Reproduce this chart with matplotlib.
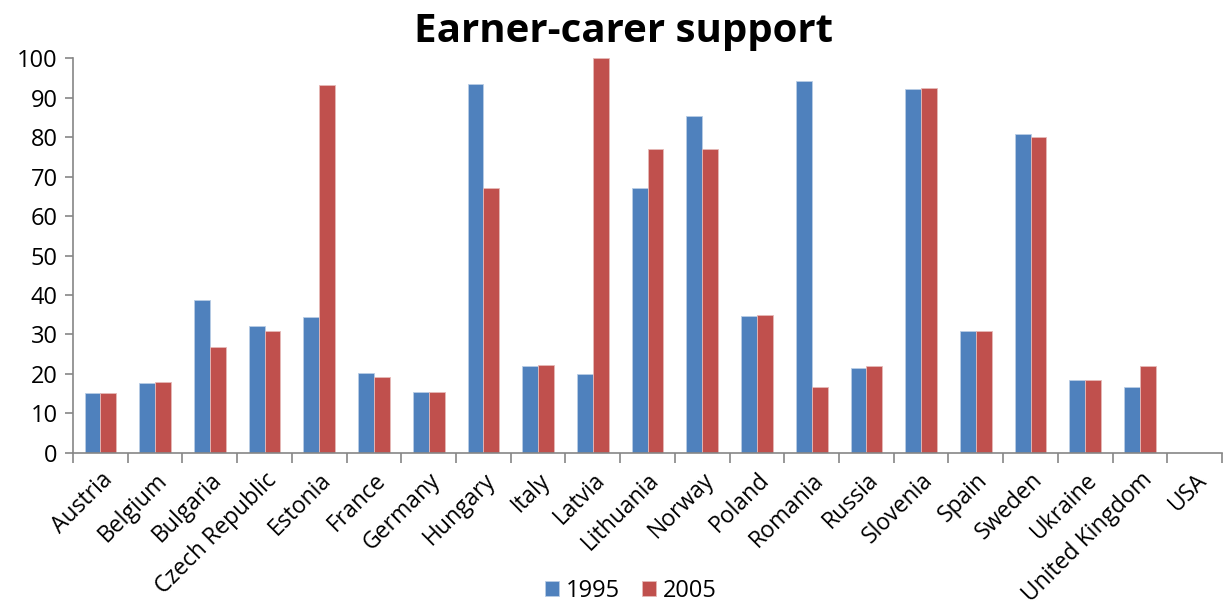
import numpy as np
import matplotlib
matplotlib.use("Agg")
import matplotlib.pyplot as plt

plt.rcParams['font.family'] = ['Open Sans', 'DejaVu Sans']

countries = ["Austria", "Belgium", "Bulgaria", "Czech Republic", "Estonia",
             "France", "Germany", "Hungary", "Italy", "Latvia", "Lithuania",
             "Norway", "Poland", "Romania", "Russia", "Slovenia", "Spain",
             "Sweden", "Ukraine", "United Kingdom", "USA"]
values_1995 = [15.2, 17.7, 38.7, 32.2, 34.4, 20.3, 15.3, 93.4, 22.0, 20.0, 67.0,
               85.3, 34.7, 94.2, 21.5, 92.2, 30.8, 80.7, 18.4, 16.6, np.nan]
values_2005 = [15.2, 18.0, 26.8, 30.9, 93.2, 19.2, 15.3, 67.1, 22.3, 100.0, 77.0,
               76.9, 34.9, 16.7, 21.9, 92.4, 30.8, 80.0, 18.4, 22.0, np.nan]

BLUE = "#4f81bd"
RED = "#c0504d"
GRAY = "#868686"

fig = plt.figure(figsize=(12.25, 6.12), dpi=100)
ax = fig.add_axes([0.0596, 0.26, 0.938, 0.645])

x = np.arange(len(countries))
w = 0.29
ax.bar(x - w / 2, values_1995, w, color=BLUE, edgecolor="#b9cde5", linewidth=0.6, label="1995")
ax.bar(x + w / 2, values_2005, w, color=RED, edgecolor="#e6b9b8", linewidth=0.6, label="2005")

ax.set_xlim(-0.5, len(countries) - 0.5)
ax.set_ylim(0, 100)
ax.set_yticks(range(0, 101, 10))
ax.tick_params(axis="y", labelsize=17, length=6, color=GRAY, width=1.2, pad=5)

# ticks between categories, labels at centers
ax.set_xticks(np.arange(-0.5, len(countries), 1.0))
ax.set_xticklabels([])
ax.set_xticks(x, minor=True)
ax.set_xticklabels(countries, minor=True, rotation=45, ha="right",
                   rotation_mode="anchor", fontsize=16.5)
ax.tick_params(axis="x", which="major", length=7, color=GRAY, width=1.2)
ax.tick_params(axis="x", which="minor", length=0, pad=11)

for s in ["top", "right"]:
    ax.spines[s].set_visible(False)
for s in ["left", "bottom"]:
    ax.spines[s].set_color(GRAY)
    ax.spines[s].set_linewidth(1.2)

fig.text(0.509, 0.948, "Earner-carer support", fontsize=29, fontweight="bold",
         ha="center", va="center")

fig.legend(loc="center", bbox_to_anchor=(0.515, 0.035), ncol=2, frameon=False,
           fontsize=17, handlelength=0.6, handleheight=0.6, handletextpad=0.3,
           columnspacing=0.9)

fig.savefig("out.png", dpi=100)
